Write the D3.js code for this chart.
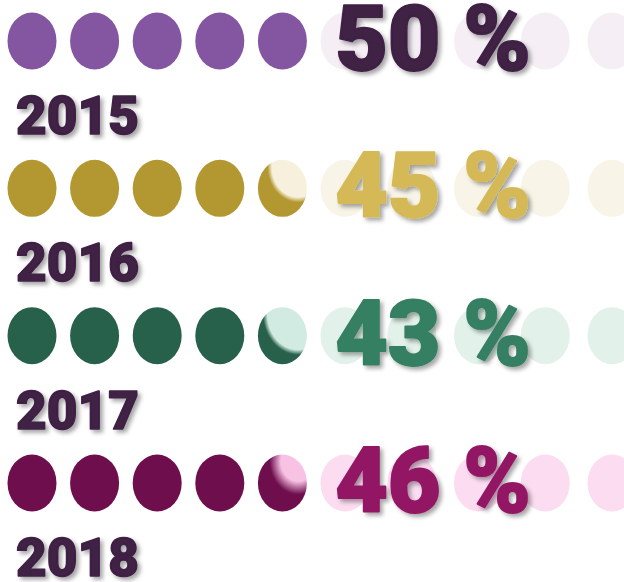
<!DOCTYPE html>
<html>
<head>
<meta charset="utf-8">
<script src="https://cdn.jsdelivr.net/npm/d3@7"></script>
<style>
  html, body { margin: 0; padding: 0; background: #fff; }
  svg { display: block; }
</style>
</head>
<body>
<svg id="chart" width="624" height="582"></svg>
<script>
// ---- data ----
const years = ["2015", "2016", "2017", "2018"];
const values = [50, 45, 43, 46];
const fullColors  = ["#8455a0", "#b39831", "#28614b", "#6e0e4d"];
const emptyColors = ["#f5eff5", "#f8f5e8", "#e2f1ea", "#fbdcf0"];
const partColors  = ["#f5eff5", "#f7f0dc", "#d2ebe2", "#f8c2e4"];
const textColors  = ["#3f2045", "#d4b957", "#367f63", "#931565"];
const yearColor = "#3f2045";
const iconCount = 10;          // each icon = 10 %
const iconIndex = d3.range(iconCount);

// ---- layout ----
const svg = d3.select("#chart");
const x = d3.scaleLinear().domain([0, 5, 9]).range([32, 345, 612]);
const y = d3.scalePoint().domain(years).range([41, 483]);
const rx = 24.5, ry = 28.5;
const fontFam = "Roboto, Inter, sans-serif";

const defs = svg.append("defs");
const f = defs.append("filter").attr("id", "shadow")
  .attr("x", "-10%").attr("y", "-10%").attr("width", "130%").attr("height", "130%");
f.append("feDropShadow").attr("dx", 3).attr("dy", 3).attr("stdDeviation", 2)
  .attr("flood-color", "#000").attr("flood-opacity", 0.35);

years.forEach((yr, r) => {
  const v = values[r];
  const full = Math.floor(v / 10);
  const frac = (v % 10) / 10;
  const gid = "part" + r;
  const g = defs.append("radialGradient").attr("id", gid)
    .attr("cx", 0.82).attr("cy", 0.12).attr("r", 1.0).attr("fx", 0.82).attr("fy", 0.12);
  const edge = 0.78 - frac * 0.45;
  g.append("stop").attr("offset", 0).attr("stop-color", partColors[r]);
  g.append("stop").attr("offset", Math.max(0, edge - (r === 3 ? 0.16 : 0.02))).attr("stop-color", partColors[r]);
  g.append("stop").attr("offset", edge + 0.07).attr("stop-color", fullColors[r]);
  g.append("stop").attr("offset", 1).attr("stop-color", fullColors[r]);

  const row = svg.append("g");
  row.selectAll("ellipse").data(iconIndex).join("ellipse")
    .attr("cx", i => x(i))
    .attr("cy", y(yr))
    .attr("rx", rx).attr("ry", ry)
    .attr("fill", i => i < full ? fullColors[r] : (i === full && frac > 0 ? `url(#${gid})` : emptyColors[r]));

  row.append("text")
    .attr("x", 433).attr("y", y(yr) + 29)
    .attr("text-anchor", "middle")
    .attr("font-family", fontFam)
    .attr("font-weight", 900)
    .attr("font-size", 91)
    .attr("fill", textColors[r])
    .attr("stroke", textColors[r])
    .attr("stroke-width", 2)
    .attr("stroke-linejoin", "round")
    .attr("filter", "url(#shadow)")
    .text(v + " %");

  row.append("text")
    .attr("x", 16).attr("y", y(yr) + 93)
    .attr("font-family", fontFam)
    .attr("font-weight", 900)
    .attr("font-size", 53)
    .attr("fill", yearColor)
    .attr("stroke", yearColor)
    .attr("stroke-width", 1.5)
    .attr("stroke-linejoin", "round")
    .attr("filter", "url(#shadow)")
    .text(yr);
});
</script>
</body>
</html>
